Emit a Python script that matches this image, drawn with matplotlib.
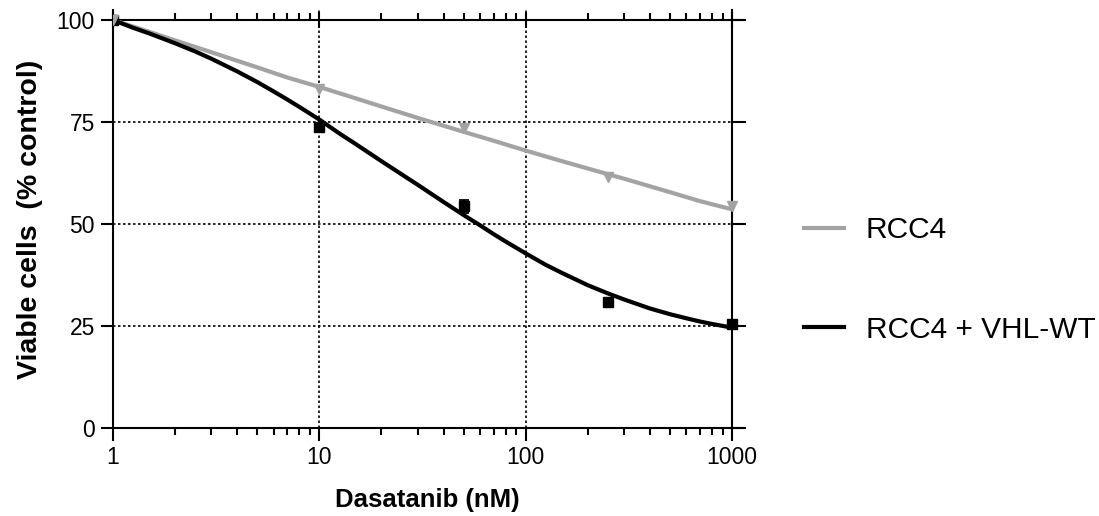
import matplotlib.pyplot as plt
from matplotlib.ticker import LogLocator, NullFormatter, FixedLocator, FixedFormatter

plt.rcParams['font.family'] = ['Liberation Sans', 'DejaVu Sans']

# measured points
dose = [1, 10, 50, 250, 1000]
rcc4 = [100, 83.2, 73.6, 61.4, 54.4]
vhl = [100, 73.8, 54.3, 30.9, 25.5]
vhl_err = [0, 0.6, 1.5, 0.6, 0.6]

# fitted curves
rcc4_x = [1, 1.5, 2, 3, 4, 5, 7, 10, 15, 20, 30, 50, 70, 100, 150, 200, 300, 500, 700, 1000]
rcc4_fit = [100, 97.1, 95.0, 92.1, 90.0, 88.4, 85.9, 83.6, 80.8, 78.8, 76.0, 72.6, 70.4,
            68.0, 65.4, 63.6, 61.1, 57.8, 55.6, 53.6]
vhl_x = [1, 1.25, 1.5, 2, 2.5, 3, 4, 5, 6, 7, 8, 10, 12.5, 15, 20, 25, 30, 40, 50, 60, 70,
         80, 100, 125, 150, 200, 250, 300, 400, 500, 600, 700, 800, 1000]
vhl_fit = [100, 98.1, 96.7, 94.3, 92.3, 90.5, 87.4, 84.8, 82.5, 80.5, 78.7, 75.6, 72.2,
           69.6, 65.4, 62.2, 59.6, 55.4, 52.2, 49.7, 47.5, 45.7, 42.8, 40.0, 38.0, 35.0,
           33.0, 31.5, 29.3, 27.9, 26.9, 26.1, 25.5, 24.6]

tick_vals = [1, 10, 100, 1000]
tick_labels = ['1', '10', '100', '1000']
y_ticks = [0, 25, 50, 75, 100]

gray = '#a3a3a3'

fig = plt.figure(figsize=(10.99, 5.16), dpi=100)
ax = fig.add_axes([113 / 1099, 88 / 516, (742 - 113) / 1099, (428 - 10) / 516])

ax.set_xscale('log')
ax.set_xlim(1, 10 ** (3 + 10 / 206.3))
ax.set_ylim(0, 100 * 418 / 408)

l1, = ax.plot(rcc4_x, rcc4_fit, color=gray, lw=3, label='RCC4', zorder=3,
              solid_joinstyle='round')
l2, = ax.plot(vhl_x, vhl_fit, color='black', lw=3, label='RCC4 + VHL-WT', zorder=4,
              solid_joinstyle='round')
ax.errorbar(dose, vhl, yerr=vhl_err, fmt='s', color='black', ms=7, capsize=3.5,
            elinewidth=1.3, capthick=1.3, zorder=5)
ax.plot(dose, rcc4, 'v', color=gray, ms=6.5, zorder=6)

ax.xaxis.set_major_locator(FixedLocator(tick_vals))
ax.xaxis.set_major_formatter(FixedFormatter(tick_labels))
ax.xaxis.set_minor_locator(LogLocator(base=10, subs=range(2, 10)))
ax.xaxis.set_minor_formatter(NullFormatter())
ax.set_yticks(y_ticks)

for side in ['top', 'right']:
    ax.spines[side].set_visible(False)
for side in ['left', 'bottom']:
    ax.spines[side].set_linewidth(1.5)

ax.tick_params(axis='both', which='major', direction='out', length=9, width=1.5,
               labelsize=16.5, pad=4)
ax.tick_params(axis='x', which='minor', direction='out', length=5, width=1.5)
ax.tick_params(axis='y', which='minor', left=False)

ax.grid(True, which='major', color='black', linestyle=(0, (1.5, 1.5)), lw=1.2)
ax.set_axisbelow(True)

# solid frame at y=100 and x=1000
top = ax.secondary_xaxis(100 / ax.get_ylim()[1])
top.xaxis.set_major_locator(FixedLocator(tick_vals))
top.xaxis.set_minor_locator(LogLocator(base=10, subs=range(2, 10)))
top.xaxis.set_major_formatter(NullFormatter())
top.xaxis.set_minor_formatter(NullFormatter())
top.tick_params(which='major', direction='inout', length=12, width=1.5)
top.tick_params(which='minor', direction='out', length=5, width=1.5)
top.spines['top'].set_linewidth(1.5)

right = ax.secondary_yaxis(3 / (3 + 10 / 206.3))
right.set_yticks(y_ticks)
right.yaxis.set_major_formatter(NullFormatter())
right.tick_params(which='major', direction='out', length=10, width=1.5)
right.spines['right'].set_linewidth(1.5)

ax.set_xlabel('Dasatanib (nM)', fontsize=18.5, fontweight='bold', labelpad=14)
ax.set_ylabel('Viable cells  (% control)', fontsize=20.5, fontweight='bold', labelpad=10)

fig.legend(handles=[l1, l2], loc='center left', bbox_to_anchor=(777 / 1099, 1 - 280 / 516),
           frameon=False, fontsize=21.5, handlelength=1.34, handletextpad=0.74,
           labelspacing=2.4)

fig.savefig('out.png', dpi=100)
